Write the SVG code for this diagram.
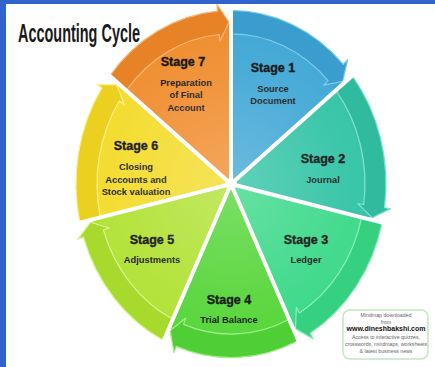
<svg xmlns="http://www.w3.org/2000/svg" width="435" height="367" viewBox="0 0 435 367">
<style>
.stage{font-family:"Liberation Sans",Arial,sans-serif;font-weight:bold;font-size:12.5px;fill:#111;stroke:#111;stroke-width:0.35;text-anchor:middle}
.desc{font-family:"Liberation Sans",Arial,sans-serif;font-weight:bold;font-size:9.3px;fill:#1a1a1a;text-anchor:middle}
.wm{font-family:"Liberation Sans",Arial,sans-serif;font-size:5.2px;fill:#666;text-anchor:middle}
.band{stroke-width:1.2;stroke-linejoin:round}
.sep{stroke:#fff;stroke-width:4;stroke-linecap:round}
</style>
<defs>
<radialGradient id="shine" cx="231" cy="184" r="160" gradientUnits="userSpaceOnUse">
<stop offset="0" stop-color="#fff" stop-opacity="0.22"/>
<stop offset="0.7" stop-color="#fff" stop-opacity="0.05"/>
<stop offset="1" stop-color="#fff" stop-opacity="0"/>
</radialGradient>
</defs>
<rect x="0" y="0" width="435" height="367" fill="#fff"/>
<rect x="0" y="0" width="435" height="4" fill="#3063cc"/>
<rect x="0" y="0" width="6" height="367" fill="#3063cc"/>
<text x="18" y="42" font-family="'Liberation Sans',Arial,sans-serif" font-weight="bold" font-size="26" fill="#1a1a1a" textLength="122" lengthAdjust="spacingAndGlyphs">Accounting Cycle</text>

<g id="stage1">
<path d="M231,184 L231,10.4 A155,173.6 0 0 1 343.30,64.34 L347.65,59.71 L342.71,81.34 L324.82,100.20 Z" fill="#42a8d6"/>
<path class="band" d="M231,10.4 A155,173.6 0 0 1 343.30,64.34 L347.65,59.71 L342.71,81.34 L323.74,85.19 L328.09,80.56 A134,150.08 0 0 0 231,33.92 Z" fill="#3a9dcd" stroke="#7ccbeb"/>
<text class="stage" x="273" y="72">Stage 1</text>
<text class="desc" x="273" y="92">Source</text>
<text class="desc" x="273" y="104">Document</text>
</g>
<g id="stage2">
<path d="M231,184 L352.18,75.76 A155,173.6 0 0 1 384.54,207.73 L390.49,208.65 L372.31,217.81 L347.99,213.91 Z" fill="#33c4a6"/>
<path class="band" d="M352.18,75.76 A155,173.6 0 0 1 384.54,207.73 L390.49,208.65 L372.31,217.81 L357.80,203.60 L363.74,204.52 A134,150.08 0 0 0 335.77,90.43 Z" fill="#30bb9e" stroke="#7fe3cc"/>
<text class="stage" x="323" y="163">Stage 2</text>
<text class="desc" x="323" y="183">Journal</text>
</g>
<g id="stage3">
<path d="M231,184 L382.11,222.63 A155,173.6 0 0 1 310.17,333.25 L313.23,339.03 L295.51,328.82 L283.07,305.09 Z" fill="#3dd98a"/>
<path class="band" d="M382.11,222.63 A155,173.6 0 0 1 310.17,333.25 L313.23,339.03 L295.51,328.82 L296.38,307.25 L299.44,313.03 A134,150.08 0 0 0 361.64,217.40 Z" fill="#36d081" stroke="#8aefb8"/>
<text class="stage" x="306" y="244">Stage 3</text>
<text class="desc" x="306" y="263">Ledger</text>
</g>
<g id="stage4">
<path d="M231,184 L298.25,340.41 A155,173.6 0 0 1 176.17,346.38 L174.05,352.66 L170.13,330.78 L178.93,305.09 Z" fill="#58d63c"/>
<path class="band" d="M298.25,340.41 A155,173.6 0 0 1 176.17,346.38 L174.05,352.66 L170.13,330.78 L185.73,318.09 L183.60,324.38 A134,150.08 0 0 0 289.14,319.22 Z" fill="#50ce35" stroke="#a2f08a"/>
<text class="stage" x="229" y="304">Stage 4</text>
<text class="desc" x="229" y="323">Trial Balance</text>
</g>
<g id="stage5">
<path d="M231,184 L163.75,340.41 A155,173.6 0 0 1 83.47,237.23 L77.76,239.29 L90.58,222.21 L114.01,213.91 Z" fill="#b2e236"/>
<path class="band" d="M163.75,340.41 A155,173.6 0 0 1 83.47,237.23 L77.76,239.29 L90.58,222.21 L109.17,227.96 L103.45,230.02 A134,150.08 0 0 0 172.86,319.22 Z" fill="#a8da2e" stroke="#d9f590"/>
<text class="stage" x="152" y="244">Stage 5</text>
<text class="desc" x="152" y="263">Adjustments</text>
</g>
<g id="stage6">
<path d="M231,184 L79.89,222.63 A155,173.6 0 0 1 101.86,88.00 L96.86,84.29 L116.78,84.87 L137.18,100.20 Z" fill="#f3dc2c"/>
<path class="band" d="M79.89,222.63 A155,173.6 0 0 1 101.86,88.00 L96.86,84.29 L116.78,84.87 L124.35,104.72 L119.35,101.01 A134,150.08 0 0 0 100.36,217.40 Z" fill="#ebd020" stroke="#fcf08a"/>
<text class="stage" x="136" y="150">Stage 6</text>
<text class="desc" x="136" y="170">Closing</text>
<text class="desc" x="136" y="183">Accounts and</text>
<text class="desc" x="136" y="195">Stock valuation</text>
</g>
<g id="stage7">
<path d="M231,184 L109.82,75.76 A155,173.6 0 0 1 217.49,11.06 L216.97,4.37 L228.98,22.18 L231,49.6 Z" fill="#f08e30"/>
<path class="band" d="M109.82,75.76 A155,173.6 0 0 1 217.49,11.06 L216.97,4.37 L228.98,22.18 L219.84,41.19 L219.32,34.49 A134,150.08 0 0 0 126.23,90.43 Z" fill="#e88226" stroke="#f9b878"/>
<text class="stage" x="183" y="66">Stage 7</text>
<text class="desc" x="186" y="86">Preparation</text>
<text class="desc" x="186" y="98">of Final</text>
<text class="desc" x="186" y="111">Account</text>
</g>

<g id="connectors">
<ellipse cx="231" cy="184" rx="134" ry="150" fill="url(#shine)" pointer-events="none"/>
<line class="sep" x1="231" y1="184" x2="231" y2="8"/>
<line class="sep" x1="231" y1="184" x2="354.53" y2="73.67"/>
<line class="sep" x1="231" y1="184" x2="385.04" y2="223.38"/>
<line class="sep" x1="231" y1="184" x2="299.55" y2="343.44"/>
<line class="sep" x1="231" y1="184" x2="162.45" y2="343.44"/>
<line class="sep" x1="231" y1="184" x2="76.96" y2="223.38"/>
<line class="sep" x1="231" y1="184" x2="107.47" y2="73.67"/>
<circle cx="231" cy="184" r="6" fill="#fff"/>
</g>

<g id="watermark">
<rect x="343" y="310" width="85" height="49" rx="7" fill="#fff" stroke="#c5e6c0" stroke-width="1.5"/>
<text class="wm" x="386" y="317">Mindmap downloaded</text>
<text class="wm" x="386" y="324">from</text>
<text x="386" y="331" font-family="'Liberation Sans',Arial,sans-serif" font-weight="bold" font-size="6.3" fill="#111" text-anchor="middle" textLength="79" lengthAdjust="spacingAndGlyphs">www.dineshbakshi.com</text>
<text class="wm" x="386" y="339">Access to interactive quizzes,</text>
<text class="wm" x="386" y="346">crosswords, mindmaps, worksheets</text>
<text class="wm" x="386" y="353">&amp; latest business news</text>
</g>
</svg>
